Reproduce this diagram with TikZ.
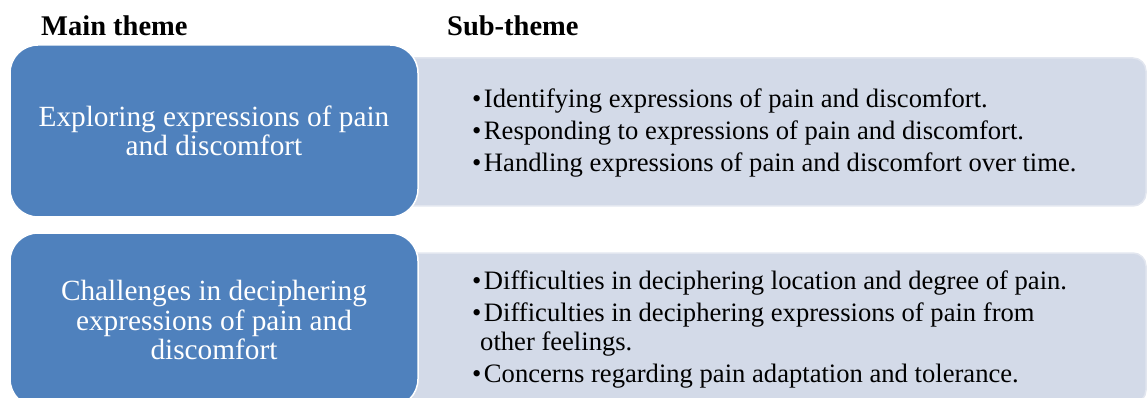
\documentclass[tikz,border=0pt]{standalone}
\usepackage{fontspec}
\setmainfont{Liberation Serif}
\definecolor{themeblue}{HTML}{4F81BD}
\definecolor{subfill}{HTML}{D3DAE8}
\definecolor{subedge}{HTML}{E2E6EF}
\newcommand\itembullet{\textbullet\kern2.5pt}
\begin{document}
\begin{tikzpicture}[x=1pt,y=-1pt,
  header/.style={anchor=base west, inner sep=0pt, font=\bfseries\fontsize{28.5}{30}\selectfont},
  mainbox/.style={draw=white, line width=1.5pt, fill=themeblue, rounded corners=28pt,
    text=white, align=center, minimum width=408pt, inner sep=0pt,
    font=\fontsize{29.3}{29.5}\selectfont},
  subbox/.style={draw=subedge, line width=1.5pt, fill=subfill, rounded corners=13pt,
    minimum width=746pt},
  subline/.style={anchor=base west, inner sep=0pt, font=\fontsize{26.6}{29.5}\selectfont},
]
\useasboundingbox (0,0) rectangle (1148,398);
\clip (0,0) rectangle (1148,398);

% column headings
\node[header] (hmain) at (41,36) {Main theme};
\node[header] (hsub) at (447,36) {Sub-theme};

% first row
\node[subbox, minimum height=148pt] (sub1) at (773,132) {};
\node[mainbox, minimum height=172pt] (main1) at (214,131)
  {Exploring expressions of pain\\and discomfort};
\node[subline] (s1a) at (472,108) {\itembullet Identifying expressions of pain and discomfort.};
\node[subline] (s1b) at (472,140) {\itembullet Responding to expressions of pain and discomfort.};
\node[subline] (s1c) at (472,172) {\itembullet Handling expressions of pain and discomfort over time.};

% second row
\node[subbox, minimum height=150pt] (sub2) at (773,328) {};
\node[mainbox, minimum height=174pt] (main2) at (214,320)
  {Challenges in deciphering\\expressions of pain and\\discomfort};
\node[subline] (s2a) at (472,289) {\itembullet Difficulties in deciphering location and degree of pain.};
\node[subline] (s2b) at (472,321) {\itembullet Difficulties in deciphering expressions of pain from};
\node[subline] (s2c) at (480,350.5) {other feelings.};
\node[subline] (s2d) at (472,382.5) {\itembullet Concerns regarding pain adaptation and tolerance.};
\end{tikzpicture}
\end{document}
